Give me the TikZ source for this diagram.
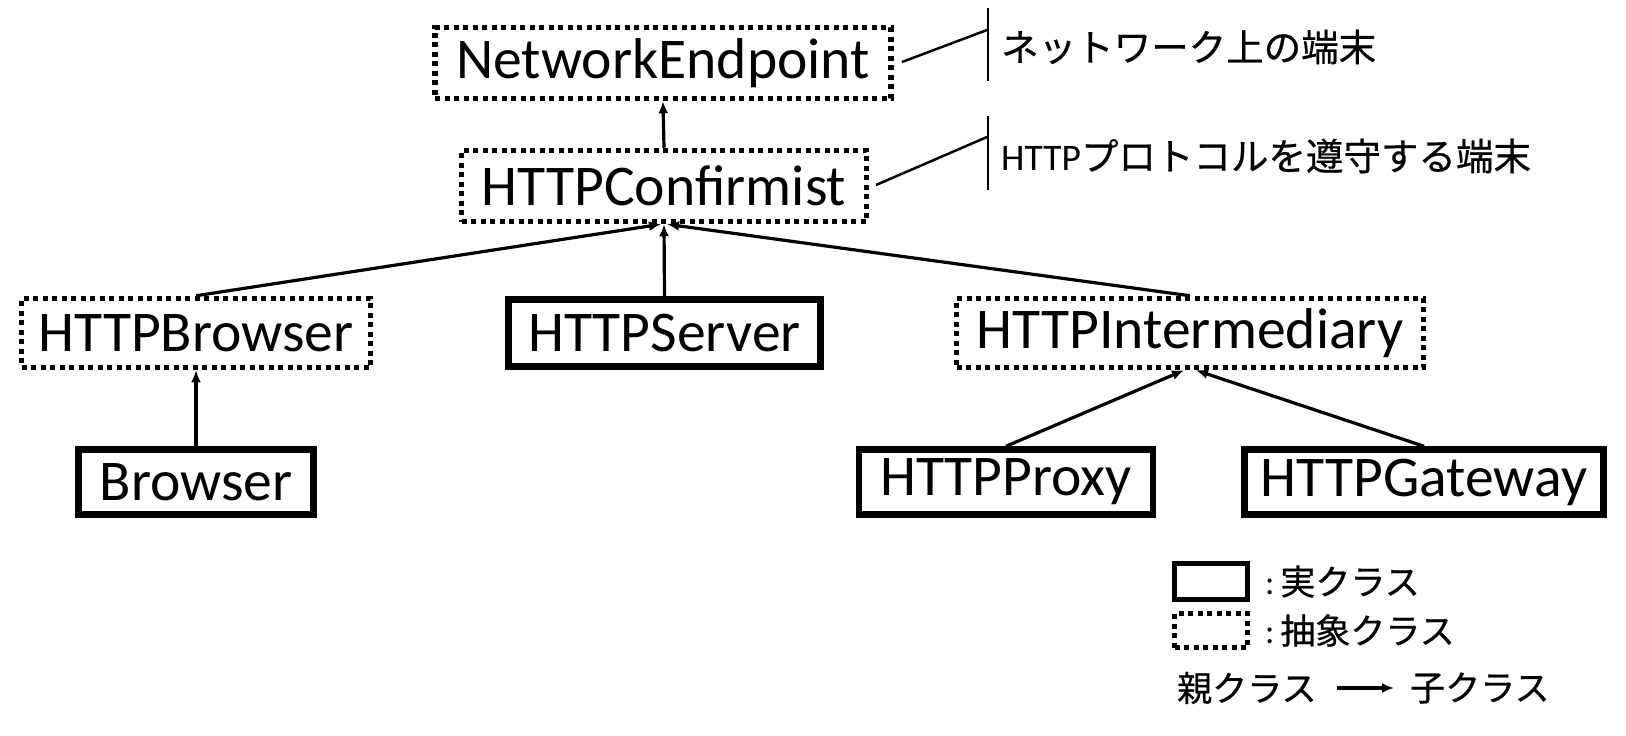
\documentclass[tikz,border=0pt]{standalone}
\usepackage{fontspec}
\setmainfont{Carlito}
\newfontfamily\jp[FakeBold=0.6]{Noto Sans CJK JP}
\usetikzlibrary{arrows.meta}
\begin{document}
\begin{tikzpicture}[x=1pt,y=-1pt,
  cls/.style={draw,inner sep=0pt,font=\fontsize{57.6}{60}\selectfont},
  abstractbox/.style={cls,line width=5.5pt,dash pattern=on 5pt off 4.5pt},
  concretebox/.style={cls,line width=6.5pt},
  arr/.style={line width=3.2pt,-{Latex[length=12pt,width=10pt]}},
  callout/.style={line width=2.5pt},
  jtext/.style={anchor=west,inner sep=0pt,font=\fontsize{37.5}{40}\selectfont\jp},
  ltext/.style={anchor=west,inner sep=0pt,font=\fontsize{35}{38}\selectfont}]
\useasboundingbox (0,0) rectangle (1626,736);
% class nodes
\node[abstractbox,minimum width=456,minimum height=71] (ne) at (663,63) {NetworkEndpoint};
\node[abstractbox,minimum width=405,minimum height=71] (hc) at (664,186) {HTTPConfirmist};
\node[abstractbox,minimum width=349,minimum height=69] (hb) at (196,333) {HTTPBrowser};
\node[concretebox,minimum width=312,minimum height=67] (hs) at (664.5,333) {HTTPServer};
\node[abstractbox,minimum width=467,minimum height=69] (hi) at (1190,333) {HTTPIntermediary};
\node[concretebox,minimum width=235,minimum height=65] (br) at (196,482) {Browser};
\node[concretebox,minimum width=294,minimum height=65] (hp) at (1006,482) {HTTPProxy};
\node[concretebox,minimum width=359,minimum height=65] (hg) at (1424,482) {HTTPGateway};
% inheritance arrows
\draw[arr] (hc.north) -- (ne.south);
\draw[arr] (hb.north) -- ([xshift=-3pt]hc.south);
\draw[arr] (hs.north) -- (hc.south);
\draw[arr] (hi.north) -- ([xshift=3pt]hc.south);
\draw[arr] (br.north) -- (hb.south);
\draw[arr] (hp.north) -- ([xshift=-6pt]hi.south);
\draw[arr] (hg.north) -- ([xshift=6pt]hi.south);
% callouts
\coordinate (c1a) at (902,62);
\coordinate (c1b) at (987,30);
\coordinate (b1t) at (988,8);
\coordinate (b1b) at (988,81);
\coordinate (c2a) at (876,185);
\coordinate (c2b) at (987,137);
\coordinate (b2t) at (988,116);
\coordinate (b2b) at (988,190);
\draw[callout] (c1a) -- (c1b);
\draw[callout] (b1t) -- (b1b);
\draw[callout] (c2a) -- (c2b);
\draw[callout] (b2t) -- (b2b);
\node[jtext] (t1) at (1001,47) {ネットワーク上の端末};
\node[jtext] (t2) at (1001,156) {{\rmfamily HTTP}プロトコルを遵守する端末};
% legend
\node[draw,line width=5pt,inner sep=0pt,minimum width=73,minimum height=36] (lg1) at (1211,581.5) {};
\node[draw,line width=5pt,dash pattern=on 5pt off 4.5pt,inner sep=0pt,minimum width=73,minimum height=34] (lg2) at (1211,630.5) {};
\node[ltext] (lt1) at (1265,581.5) {:\,{\jp 実クラス}};
\node[ltext] (lt2) at (1265,630.5) {:\,{\jp 抽象クラス}};
\node[ltext,font=\fontsize{35}{38}\selectfont\jp] (lp) at (1177,688) {親クラス};
\node[ltext,font=\fontsize{35}{38}\selectfont\jp] (lc) at (1410,688) {子クラス};
\coordinate (la1) at (1337,688);
\coordinate (la2) at (1394,688);
\draw[line width=3.2pt,-{Latex[length=12pt,width=10pt]}] (la1) -- (la2);
\end{tikzpicture}
\end{document}
